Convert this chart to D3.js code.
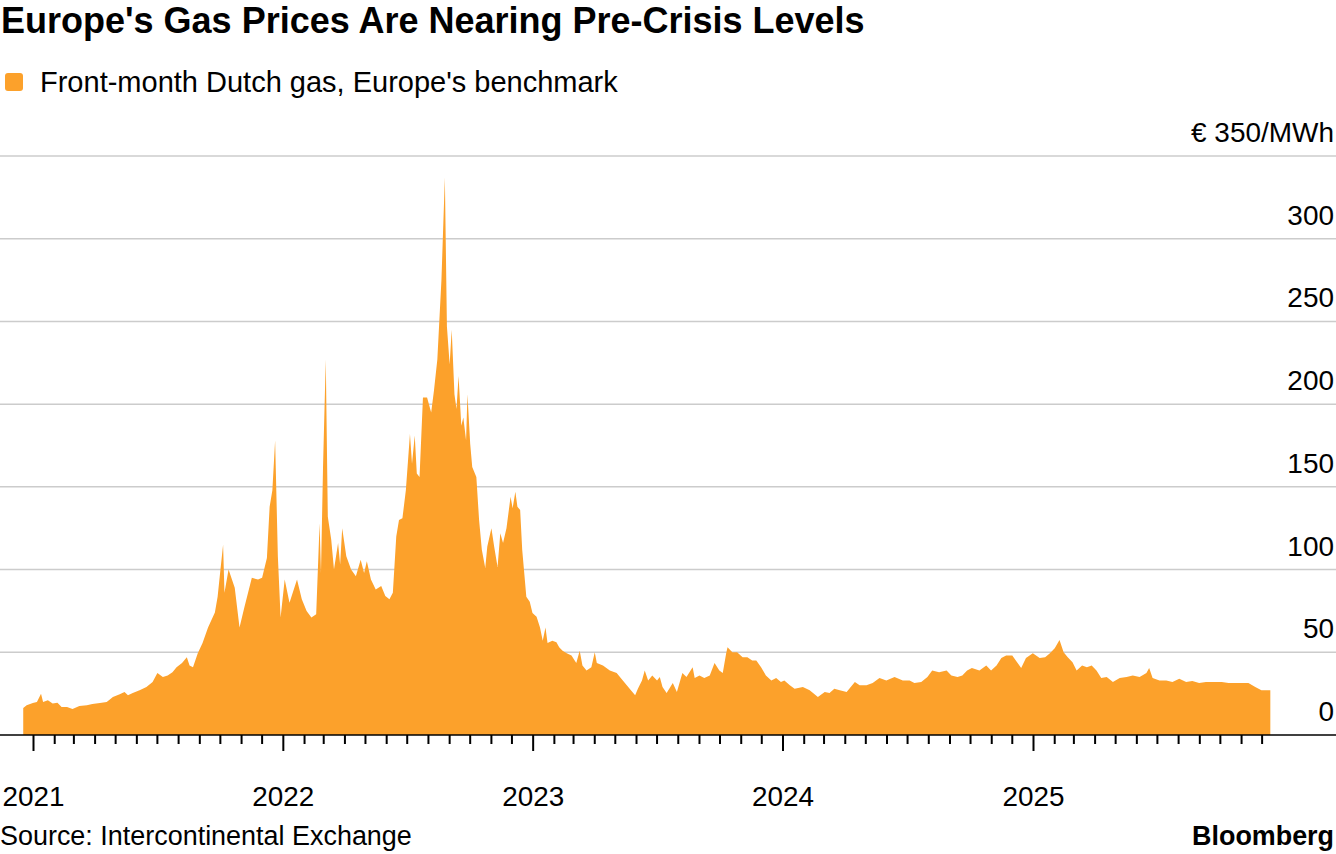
<!DOCTYPE html>
<html><head><meta charset="utf-8">
<script src="https://cdn.jsdelivr.net/npm/d3@7"></script>
<style>html,body{margin:0;padding:0;background:#fff;}svg{display:block;}</style>
</head><body><svg id="chart" width="1336" height="854"></svg>
<script>
const title = "Europe's Gas Prices Are Nearing Pre-Crisis Levels";
const seriesName = "Front-month Dutch gas, Europe's benchmark";
const source = "Source: Intercontinental Exchange";
const brand = "Bloomberg";
const yTicks = [0, 50, 100, 150, 200, 250, 300, 350];
const yUnit = "€ 350/MWh";
const yearTicks = ["2021", "2022", "2023", "2024", "2025"];

const dates = [
"2020-12-17","2020-12-22","2020-12-31","2021-01-06","2021-01-12","2021-01-15","2021-01-22","2021-01-29","2021-02-05","2021-02-11",
"2021-02-19","2021-02-27","2021-03-09","2021-03-20","2021-03-28","2021-04-08","2021-04-18","2021-04-27","2021-05-07","2021-05-14",
"2021-05-19","2021-05-26","2021-06-05","2021-06-15","2021-06-24","2021-07-01","2021-07-09","2021-07-16","2021-07-23","2021-07-29",
"2021-08-06","2021-08-13","2021-08-17","2021-08-22","2021-08-29","2021-09-05","2021-09-13","2021-09-18","2021-09-23","2021-09-27",
"2021-09-30","2021-10-05","2021-10-07","2021-10-13","2021-10-22","2021-10-29","2021-11-05","2021-11-16","2021-11-25","2021-12-01",
"2021-12-08","2021-12-12","2021-12-16","2021-12-20","2021-12-24","2021-12-28","2022-01-03","2022-01-10","2022-01-21","2022-01-28",
"2022-02-04","2022-02-11","2022-02-18","2022-02-23","2022-02-25","2022-02-28","2022-03-04","2022-03-07","2022-03-12","2022-03-16",
"2022-03-22","2022-03-25","2022-03-28","2022-04-03","2022-04-10","2022-04-17","2022-04-24","2022-04-29","2022-05-03","2022-05-09",
"2022-05-16","2022-05-24","2022-05-30","2022-06-05","2022-06-10","2022-06-15","2022-06-19","2022-06-24","2022-06-29","2022-07-05",
"2022-07-08","2022-07-12","2022-07-15","2022-07-19","2022-07-24","2022-07-30","2022-08-05","2022-08-09","2022-08-14","2022-08-20",
"2022-08-25","2022-08-28","2022-09-01","2022-09-04","2022-09-08","2022-09-11","2022-09-14","2022-09-18","2022-09-21","2022-09-25",
"2022-09-27","2022-10-01","2022-10-04","2022-10-10","2022-10-14","2022-10-18","2022-10-23","2022-10-26","2022-11-01","2022-11-05",
"2022-11-10","2022-11-14","2022-11-18","2022-11-23","2022-11-29","2022-12-02","2022-12-06","2022-12-09","2022-12-13","2022-12-16",
"2022-12-22","2022-12-27","2022-12-31","2023-01-06","2023-01-11","2023-01-15","2023-01-19","2023-01-22","2023-01-29","2023-02-04",
"2023-02-08","2023-02-13","2023-02-19","2023-02-26","2023-03-05","2023-03-10","2023-03-14","2023-03-20","2023-03-27","2023-04-01",
"2023-04-04","2023-04-13","2023-04-23","2023-05-03","2023-05-12","2023-05-22","2023-05-30","2023-06-03","2023-06-09","2023-06-13",
"2023-06-18","2023-06-24","2023-07-01","2023-07-05","2023-07-09","2023-07-15","2023-07-24","2023-07-30","2023-08-07","2023-08-13",
"2023-08-22","2023-08-25","2023-09-01","2023-09-08","2023-09-16","2023-09-23","2023-09-30","2023-10-05","2023-10-10","2023-10-12",
"2023-10-19","2023-10-26","2023-11-03","2023-11-10","2023-11-17","2023-11-23","2023-11-30","2023-12-07","2023-12-15","2023-12-22",
"2023-12-29","2024-01-03","2024-01-11","2024-01-18","2024-01-30","2024-02-09","2024-02-21","2024-03-02","2024-03-09","2024-03-16",
"2024-03-24","2024-04-03","2024-04-15","2024-04-22","2024-05-02","2024-05-11","2024-05-21","2024-05-31","2024-06-12","2024-06-24",
"2024-07-04","2024-07-11","2024-07-21","2024-07-30","2024-08-06","2024-08-16","2024-08-27","2024-09-03","2024-09-12","2024-09-19",
"2024-09-26","2024-10-03","2024-10-14","2024-10-24","2024-10-31","2024-11-08","2024-11-15","2024-11-22","2024-12-01","2024-12-08",
"2024-12-14","2024-12-21","2024-12-31","2025-01-10","2025-01-18","2025-01-25","2025-02-01","2025-02-08","2025-02-14","2025-02-20",
"2025-02-27","2025-03-05","2025-03-13","2025-03-20","2025-03-27","2025-04-03","2025-04-10","2025-04-18","2025-04-27","2025-05-07",
"2025-05-17","2025-05-26","2025-06-05","2025-06-15","2025-06-19","2025-06-24","2025-07-04","2025-07-14","2025-07-23","2025-08-02",
"2025-08-12","2025-08-21","2025-08-31","2025-09-10","2025-09-19","2025-10-03","2025-10-13","2025-10-23","2025-11-01","2025-11-11",
"2025-11-21","2025-11-30","2025-12-13"
];
const prices = [
16.3,18,19.3,20,25,20,21,19,19.5,17,
17,15.7,17.5,18,18.7,19.3,20,23,24.6,26,
24,25.4,27,29,32,37.5,35,36,38,41,
43.5,47,42,41,49.4,55.6,65,69.5,74,83.5,
95.5,115,86,100,89,65,77,95,94,95,
107,138,148,178,108,71,94,80,94,82,
75,71,73,128,98,162,227,132,118,100,
116,103,125,108,100,96,106,98,105,94,
88,90,84,82,86,120,130,131,148,182,
164,181,158,156,204,204,195,208,227,275,
337,247,224,245,206,197,217,187,192,178,
206,176,162,156,130,112,101,114,125,114,
101.6,122,116,125,144,137,147,138,136,112,
83.5,80.5,73.7,71.5,65,57,65,55.6,57,56,
53,51,49.4,48,43.5,51,42,39,41,50,
43.5,42,39,37.5,33,28,24,28,33,39,
33,36,33,35,29,25.4,31.4,26,37.5,35,
41,34.5,36,34.5,36,43.5,39,37.5,49.4,53,
50,50,47,47,45,45,41,36,33,34.5,
32,33,30,28,29,27,23,26,25.4,28,
27,26,32,30,30,31.4,34.5,33,35,33,
33,31.4,32,35,39,38,39,36,35,36,
39,40.5,39,42,39,42,46.5,48,48,44,
40.5,46.5,49.4,46.5,47,49.4,52.5,57.4,50,47,
44,39,42,41,42,39,34.5,35,32,34.5,
35,36,35,37.5,40.5,34.5,33,33,32,34,
32,32.6,31.4,32,32,32,31.4,31.4,31.4,31.4,
29,27,27
];

const parse = d3.timeParse("%Y-%m-%d");
const data = dates.map((d, i) => ({ date: parse(d), value: prices[i] }));

const W = 1336, H = 854;
const svg = d3.select("#chart");
const font = "'Liberation Sans', Arial, Helvetica, sans-serif";
const orange = "#fca12b";

const x = d3.scaleTime()
  .domain([new Date(2021, 0, 1), new Date(2025, 0, 1)])
  .range([33.5, 1033.5]);
const y = d3.scaleLinear().domain([0, 350]).range([735, 156]);

function fit(sel, target) {
  const len = sel.node().getComputedTextLength();
  const fs = parseFloat(sel.attr("font-size"));
  const nfs = fs * target / len;
  sel.attr("font-size", nfs);
  return nfs;
}

// Title
const t = svg.append("text").attr("x", 1).attr("y", 33)
  .attr("font-family", font).attr("font-weight", "bold").attr("font-size", 30)
  .attr("fill", "#000").text(title);
fit(t, 864);

// Legend
svg.append("rect").attr("x", 5).attr("y", 73).attr("width", 18).attr("height", 18)
  .attr("rx", 3).attr("fill", orange);
const lt = svg.append("text").attr("x", 40).attr("y", 92)
  .attr("font-family", font).attr("font-size", 24).attr("fill", "#000").text(seriesName);
fit(lt, 578);

// Gridlines
svg.append("g").selectAll("line").data(yTicks.filter(v => v > 0)).join("line")
  .attr("x1", 0).attr("x2", W)
  .attr("y1", d => y(d)).attr("y2", d => y(d))
  .attr("stroke", "#cccccc").attr("stroke-width", 1.5);

// Area
const area = d3.area()
  .x(d => x(d.date))
  .y0(y(0))
  .y1(d => y(d.value));
svg.append("path").datum(data).attr("d", area).attr("fill", orange);

// Baseline axis
svg.append("line").attr("x1", 0).attr("x2", W).attr("y1", y(0)).attr("y2", y(0))
  .attr("stroke", "#000").attr("stroke-width", 1.5);

// Month ticks
const months = d3.timeMonth.range(new Date(2021, 0, 1), new Date(2026, 0, 1));
svg.append("g").selectAll("line").data(months).join("line")
  .attr("x1", d => x(d)).attr("x2", d => x(d))
  .attr("y1", y(0)).attr("y2", d => d.getMonth() === 0 ? y(0) + 16 : y(0) + 9)
  .attr("stroke", "#000").attr("stroke-width", 2);

// Year labels
const yl = svg.append("g").selectAll("text").data(yearTicks).join("text")
  .attr("x", d => x(parse(d + "-01-01"))).attr("y", 806)
  .attr("text-anchor", "middle").attr("font-family", font).attr("font-size", 24)
  .attr("fill", "#000").text(d => d);
const yfs = fit(d3.select(yl.nodes()[0]), 62);
yl.attr("font-size", yfs);

// Y labels
const ylab = svg.append("g").selectAll("text").data(yTicks).join("text")
  .attr("x", 1334).attr("y", d => y(d) - 14)
  .attr("text-anchor", "end").attr("font-family", font).attr("font-size", 24)
  .attr("fill", "#000").text(d => d === 350 ? yUnit : d);
const topLabel = d3.select(ylab.nodes()[ylab.nodes().length - 1]);
const yls = fit(topLabel, 143);
ylab.attr("font-size", yls);

// Footer
const src = svg.append("text").attr("x", 0).attr("y", 845)
  .attr("font-family", font).attr("font-size", 24).attr("fill", "#000").text(source);
fit(src, 412);
const br = svg.append("text").attr("x", 1334).attr("y", 845).attr("text-anchor", "end")
  .attr("font-family", font).attr("font-weight", "bold").attr("font-size", 22)
  .attr("fill", "#000").text(brand);
fit(br, 142);
</script></body></html>
